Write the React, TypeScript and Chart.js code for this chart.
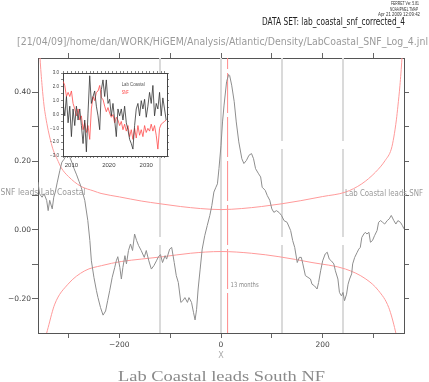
import React, { useEffect, useRef } from 'react';
import { Chart, registerables } from 'chart.js';

Chart.register(...registerables);

// ---------- Main cross-correlation data (lag in months, correlation) ----------
const ccLags = [
  -360, -357, -352, -348, -343, -340, -337, -332, -329, -326, -322, -317, -313, -309, -305, -301, -297, -293, -289, -284,
  -279, -275, -268, -262, -258, -255, -250, -245, -242, -237, -232, -227, -223, -219, -214, -209, -206, -203, -199, -196,
  -193, -189, -186, -182, -178, -174, -170, -166, -162, -157, -151, -147, -142, -137, -132, -127, -123, -119, -115, -110,
  -107, -101, -97, -92, -88, -84, -79, -75, -71, -66, -63, -58, -54, -51, -48, -45, -41, -37, -32, -27,
  -22, -18, -14, -10, -7, -4, 0, 3, 6, 11, 15, 17, 21, 26, 30, 35, 41, 45, 50, 55,
  60, 64, 68, 74, 78, 81, 87, 91, 96, 100, 104, 109, 114, 119, 124, 130, 137, 141, 145, 150,
  154, 158, 161, 166, 171, 176, 179, 184, 189, 192, 196, 200, 205, 209, 213, 217, 222, 225, 230, 233,
  237, 240, 243, 247, 250, 253, 257, 259, 263, 268, 271, 274, 277, 281, 284, 287, 291, 294, 298, 302,
  307, 310, 314, 318, 322, 327, 331, 335, 340, 344, 348, 353, 357, 360,
];
const ccValues = [
  0.139, 0.105, 0.095, 0.105, 0.086, 0.056, 0.086, 0.061, 0.095, 0.11, 0.139, 0.173, 0.197, 0.205, 0.215, 0.222, 0.21, 0.195, 0.178, 0.16,
  0.14, 0.124, 0.086, 0.027, -0.031, -0.09, -0.138, -0.177, -0.197, -0.226, -0.248, -0.236, -0.206, -0.177, -0.138, -0.109, -0.09, -0.078, -0.109, -0.143,
  -0.109, -0.075, -0.099, -0.06, -0.041, -0.06, -0.012, -0.031, -0.046, -0.06, -0.08, -0.06, -0.09, -0.114, -0.104, -0.09, -0.078, -0.072, -0.095, -0.075,
  -0.085, -0.056, -0.051, -0.095, -0.133, -0.153, -0.211, -0.206, -0.197, -0.211, -0.197, -0.211, -0.241, -0.262, -0.231, -0.172, -0.114, -0.056, -0.017, 0.013,
  0.042, 0.071, 0.11, 0.124, 0.134, 0.178, 0.246, 0.314, 0.363, 0.431, 0.452, 0.449, 0.421, 0.373, 0.314, 0.256, 0.207, 0.193, 0.202, 0.217,
  0.222, 0.207, 0.178, 0.163, 0.154, 0.124, 0.115, 0.1, 0.086, 0.061, 0.051, 0.056, 0.051, 0.042, 0.027, 0.022, -0.002, -0.031, -0.051, -0.095,
  -0.08, -0.08, -0.099, -0.133, -0.138, -0.143, -0.158, -0.163, -0.172, -0.153, -0.119, -0.09, -0.07, -0.065, -0.085, -0.09, -0.099, -0.119, -0.143, -0.182,
  -0.192, -0.182, -0.206, -0.187, -0.158, -0.143, -0.128, -0.099, -0.08, -0.065, -0.056, -0.051, -0.022, -0.012, -0.007, -0.012, -0.007, -0.036, -0.031, -0.017,
  -0.002, 0.022, 0.027, 0.022, 0.017, 0.027, 0.032, 0.042, 0.027, 0.017, 0.027, 0.022, 0.012, 0.003,
];

// ---------- Significance curves ----------
const upperLags = [-358, -356, -352, -348, -345, -340, -335, -330, -322, -314, -300, -276, -250, -236, -200, -157, -120, -80, -40, 0, 40, 80, 120, 157, 200, 245, 277, 304, 323, 335, 340, 345, 348, 352, 356, 358];
const upperValues = [0.56, 0.5, 0.42, 0.36, 0.33, 0.29, 0.258, 0.232, 0.205, 0.18, 0.155, 0.127, 0.113, 0.106, 0.096, 0.084, 0.076, 0.068, 0.062, 0.059, 0.062, 0.068, 0.076, 0.085, 0.097, 0.11, 0.134, 0.168, 0.202, 0.235, 0.27, 0.32, 0.36, 0.42, 0.5, 0.56];
const lowerLags = [-350, -346, -340, -327, -301, -268, -235, -196, -157, -114, -60, 0, 60, 114, 179, 245, 285, 310, 330, 343, 348, 352];
const lowerValues = [-0.36, -0.32, -0.284, -0.216, -0.158, -0.119, -0.104, -0.092, -0.085, -0.078, -0.068, -0.063, -0.068, -0.078, -0.095, -0.114, -0.143, -0.177, -0.226, -0.294, -0.33, -0.37];

// ---------- Reference lines ----------
const refLineLags = [-120, 0, 120, 240];
const peakLag = 13;

// ---------- Axis ticks ----------
const xTickValues = [-300, -200, -100, 0, 100, 200, 300];
const xLabelValues = [-200, 0, 200];
const yTickValues = [-0.2, -0.1, 0, 0.1, 0.2, 0.3, 0.4];
const yLabelValues = [-0.2, 0, 0.2, 0.4];

// ---------- Inset time series ----------
const insetYears = [
  2007.78, 2008.22, 2008.67, 2009.11, 2009.56, 2010.0, 2010.44, 2010.89, 2011.33, 2011.78, 2012.22, 2012.67, 2013.11, 2013.56, 2014.0, 2014.44,
  2014.89, 2015.33, 2015.78, 2016.22, 2016.67, 2017.11, 2017.56, 2018.0, 2018.44, 2018.89, 2019.33, 2019.78, 2020.22, 2020.67, 2021.11, 2021.56,
  2022.0, 2022.44, 2022.89, 2023.33, 2023.78, 2024.22, 2024.67, 2025.11, 2025.56, 2026.0, 2026.44, 2026.89, 2027.33, 2027.78, 2028.22, 2028.67,
  2029.11, 2029.56, 2030.0, 2030.44, 2030.89, 2031.33, 2031.78, 2032.22, 2032.67, 2033.11, 2033.56, 2034.0, 2034.44, 2034.89, 2035.33,
];
const labCoastalValues = [
  0.8, -0.1, 1.3, -0.6, 0.6, -1.6, 0.4, -0.8, 0.6, -0.4, 0.4, -0.8, -2.1, -0.4, -2.7, 0.1,
  2.8, 0.8, 1.3, 1.7, 0.6, -0.1, -1.1, 1.8, 2.5, 1.3, 2.5, 0.8, 1.1, -0.1, 0.8, -0.4,
  -1.6, 0.4, -0.1, 0.4, -0.4, 0.6, -0.6, -1.1, -1.8, -2.1, -2.5, -0.8, 0.4, 0.8, -0.1, 1.0,
  0.4, 1.1, -0.2, 0.6, 1.6, 0.8, 2.1, -0.1, 0.8, 0.4, 1.6, -0.1, 1.2, 0.4, -0.4,
];
const snfValues = [
  2.4, 2.1, 1.3, 1.6, 1.3, 1.7, 0.8, 0.4, -0.1, 0.4, -0.4, -0.1, -1.1, -0.6, -1.3, -0.8,
  -1.8, 0.4, 1.3, 1.0, 1.6, 1.7, 2.1, 1.2, 1.1, 0.6, 0.2, 0.5, 0.1, -0.2, 0.0, -0.6,
  -0.2, -0.4, -0.8, -0.5, -1.1, -0.7, -1.2, -0.8, -1.6, -1.1, -1.8, -1.0, -1.7, -0.8, -1.5, -1.1,
  -1.6, -0.8, -1.3, -1.0, -1.2, -0.7, -1.2, -0.8, -1.5, -2.5, -1.0, -0.7, -0.6, -0.5, -0.4,
];
const insetXTicks = [2008, 2009, 2010, 2011, 2012, 2013, 2014, 2015, 2016, 2017, 2018, 2019, 2020, 2021, 2022, 2023, 2024, 2025, 2026, 2027, 2028, 2029, 2030, 2031, 2032, 2033, 2034, 2035];
const insetXLabels = [2010, 2020, 2030];
const insetYTicks = [-3, -2.5, -2, -1.5, -1, -0.5, 0, 0.5, 1, 1.5, 2, 2.5, 3];

type TextSpec = { text: string; x: number; y: number; font: string; color: string; align: 'left' | 'center' | 'right'; width?: number };

function drawText(ctx: CanvasRenderingContext2D, t: TextSpec) {
  ctx.save();
  ctx.font = t.font;
  ctx.fillStyle = t.color;
  ctx.textBaseline = 'middle';
  ctx.textAlign = 'left';
  const m = ctx.measureText(t.text).width;
  const sx = t.width ? t.width / m : 1;
  const w = m * sx;
  const left = t.align === 'left' ? t.x : t.align === 'center' ? t.x - w / 2 : t.x - w;
  ctx.translate(left, t.y);
  ctx.scale(sx, 1);
  ctx.fillText(t.text, 0, 0);
  ctx.restore();
}

const fmtSigned = (v: number, d: number) => (v < -1e-9 ? '\u2212' : '') + Math.abs(v).toFixed(d);
const near = (arr: number[], v: number) => arr.some((a) => Math.abs(a - v) < 1e-6);

const tickFont = { family: 'DejaVu Sans', size: 7.5 };
const AXIS = '#555555';
const TICK = '#666666';

const App = () => {
  const mainRef = useRef<HTMLCanvasElement>(null);
  const insetRef = useRef<HTMLCanvasElement>(null);

  useEffect(() => {
    const mainTexts: any = {
      id: 'mainTexts',
      afterDraw(chart: any) {
        const ctx = chart.ctx as CanvasRenderingContext2D;
        const xs = chart.scales.x;
        const texts: TextSpec[] = [
          { text: 'FERRET Ver. 5.81', x: 419, y: 4, font: '5px "Liberation Sans"', color: '#333', align: 'right', width: 28 },
          { text: 'NOAA/PMEL TMAP', x: 418, y: 9.5, font: '5px "Liberation Sans"', color: '#333', align: 'right', width: 28 },
          { text: 'Apr 21 2009 12:09:42', x: 420, y: 14.5, font: '5px "Liberation Sans"', color: '#333', align: 'right', width: 42 },
          { text: 'DATA SET: lab_coastal_snf_corrected_4', x: 262, y: 22, font: '10px "DejaVu Sans"', color: '#222', align: 'left', width: 143 },
          { text: '[21/04/09]/home/dan/WORK/HiGEM/Analysis/Atlantic/Density/LabCoastal_SNF_Log_4.jnl', x: 17, y: 42, font: '11px "DejaVu Sans"', color: '#9a9a9a', align: 'left', width: 411 },
          { text: 'SNF leads Lab Coastal', x: 0.5, y: 193, font: '8px "DejaVu Sans"', color: '#9a9a9a', align: 'left', width: 85 },
          { text: 'Lab Coastal leads SNF', x: 345, y: 194, font: '8px "DejaVu Sans"', color: '#9a9a9a', align: 'left', width: 78 },
          { text: '13 months', x: xs.getPixelForValue(peakLag) + 3, y: 285, font: '7px "DejaVu Sans"', color: '#888', align: 'left', width: 28 },
          { text: 'X', x: xs.getPixelForValue(0), y: 356, font: '8px "DejaVu Sans"', color: '#aaa', align: 'center' },
          { text: 'Lab Coastal leads South NF', x: 221.5, y: 377, font: '14px "Liberation Serif"', color: '#8a8a8a', align: 'center', width: 207 },
        ];
        texts.forEach((t) => drawText(ctx, t));
      },
    };

    const lineDs = (label: string, data: { x: number; y: number }[], color: string, width: number, dash: number[] = [], smooth = false) => ({
      label,
      data,
      borderColor: color,
      backgroundColor: color,
      borderWidth: width,
      borderDash: dash,
      pointRadius: 0,
      fill: false,
      tension: 0,
      cubicInterpolationMode: smooth ? 'monotone' : 'default',
      xAxisID: 'x',
      yAxisID: 'y',
    });

    const datasets: any[] = [
      lineDs('cross-correlation', ccLags.map((l, i) => ({ x: l, y: ccValues[i] })), '#8e8e8e', 1),
      lineDs('upper', upperLags.map((l, i) => ({ x: l, y: upperValues[i] })), '#ff9a9a', 1, [], true),
      lineDs('lower', lowerLags.map((l, i) => ({ x: l, y: lowerValues[i] })), '#ff9a9a', 1, [], true),
      lineDs('peak', [{ x: peakLag, y: -0.3 }, { x: peakLag, y: 0.5 }], '#ff8a8a', 1, [40, 4]),
      ...refLineLags.map((l) =>
        lineDs('ref' + l, [{ x: l, y: -0.3 }, { x: l, y: 0.5 }], '#dadada', 2, l === 0 ? [] : [88, 8])
      ),
    ];

    const xCommon = {
      type: 'linear' as const,
      axis: 'x' as const,
      min: -360,
      max: 360,
      afterBuildTicks: (s: any) => {
        s.ticks = xTickValues.map((value) => ({ value }));
      },
      grid: { drawOnChartArea: false, drawTicks: true, tickLength: 5, color: TICK, lineWidth: 1 },
      border: { display: true, color: AXIS, width: 1 },
    };
    const yCommon = {
      type: 'linear' as const,
      axis: 'y' as const,
      min: -0.3,
      max: 0.5,
      afterBuildTicks: (s: any) => {
        s.ticks = yTickValues.map((value) => ({ value }));
      },
      grid: { drawOnChartArea: false, drawTicks: true, tickLength: 6, color: TICK, lineWidth: 1 },
      border: { display: true, color: AXIS, width: 1 },
    };

    const main = new Chart(mainRef.current as HTMLCanvasElement, {
      type: 'line',
      data: { datasets },
      options: {
        responsive: false,
        animation: false,
        devicePixelRatio: 1,
        layout: { padding: 0 },
        plugins: { legend: { display: false }, tooltip: { enabled: false }, title: { display: false } },
        scales: {
          x: {
            ...xCommon,
            position: 'bottom',
            ticks: {
              display: true,
              autoSkip: false,
              maxRotation: 0,
              padding: 3,
              color: '#444',
              font: tickFont,
              callback: (v: any) => (near(xLabelValues, Number(v)) ? fmtSigned(Number(v), 0) : ''),
            },
            afterFit: (s: any) => {
              s.height = 49;
            },
          },
          x2: {
            ...xCommon,
            position: 'top',
            ticks: { display: false },
            afterFit: (s: any) => {
              s.height = 58;
            },
          },
          y: {
            ...yCommon,
            position: 'left',
            ticks: {
              display: true,
              autoSkip: false,
              padding: 1,
              color: '#444',
              font: tickFont,
              callback: (v: any) => (near(yLabelValues, Number(v)) ? fmtSigned(Number(v), 2) : ''),
            },
            afterFit: (s: any) => {
              s.width = 38;
            },
          },
          y2: {
            ...yCommon,
            position: 'right',
            grid: { ...yCommon.grid, tickLength: 5 },
            ticks: { display: false },
            afterFit: (s: any) => {
              s.width = 25;
            },
          },
        } as any,
      },
      plugins: [mainTexts],
    });

    const insetPlugin: any = {
      id: 'insetDecor',
      beforeDraw(chart: any) {
        const { ctx, chartArea } = chart;
        ctx.save();
        ctx.fillStyle = '#ffffff';
        ctx.fillRect(chartArea.left, chartArea.top, chartArea.right - chartArea.left, chartArea.bottom - chartArea.top);
        ctx.restore();
      },
      afterDraw(chart: any) {
        const ctx = chart.ctx as CanvasRenderingContext2D;
        drawText(ctx, { text: 'Lab Coastal', x: 81.7, y: 19, font: '5px "Liberation Sans"', color: '#555', align: 'left', width: 23 });
        drawText(ctx, { text: 'SNF', x: 81.7, y: 26.3, font: '5px "Liberation Sans"', color: '#ff4040', align: 'left', width: 7 });
      },
    };

    const ixCommon = {
      type: 'linear' as const,
      axis: 'x' as const,
      min: 2007.75,
      max: 2035.55,
      afterBuildTicks: (s: any) => {
        s.ticks = insetXTicks.map((value) => ({ value }));
      },
      grid: { drawOnChartArea: false, drawTicks: true, tickLength: 2, color: '#555', lineWidth: 0.7 },
      border: { display: true, color: '#444', width: 1 },
    };
    const iyCommon = {
      type: 'linear' as const,
      axis: 'y' as const,
      min: -3,
      max: 3,
      afterBuildTicks: (s: any) => {
        s.ticks = insetYTicks.map((value) => ({ value }));
      },
      grid: { drawOnChartArea: false, drawTicks: true, tickLength: 2, color: '#555', lineWidth: 0.7 },
      border: { display: true, color: '#444', width: 1 },
    };

    const inset = new Chart(insetRef.current as HTMLCanvasElement, {
      type: 'line',
      data: {
        datasets: [
          {
            label: 'Lab Coastal',
            data: insetYears.map((yr, i) => ({ x: yr, y: labCoastalValues[i] })),
            borderColor: '#333',
            borderWidth: 0.8,
            pointRadius: 0,
            tension: 0,
            fill: false,
          },
          {
            label: 'SNF',
            data: insetYears.map((yr, i) => ({ x: yr, y: snfValues[i] })),
            borderColor: '#ff4a4a',
            borderWidth: 0.8,
            pointRadius: 0,
            tension: 0,
            fill: false,
          },
        ] as any,
      },
      options: {
        responsive: false,
        animation: false,
        devicePixelRatio: 1,
        layout: { padding: 0 },
        plugins: { legend: { display: false }, tooltip: { enabled: false } },
        scales: {
          x: {
            ...ixCommon,
            position: 'bottom',
            ticks: {
              display: true,
              autoSkip: false,
              maxRotation: 0,
              padding: 4,
              color: '#444',
              font: { family: 'Liberation Sans', size: 6 },
              callback: (v: any) => (near(insetXLabels, Number(v)) ? String(v) : ''),
            },
            afterFit: (s: any) => {
              s.height = 18;
            },
          },
          x2: {
            ...ixCommon,
            position: 'top',
            ticks: { display: false },
            afterFit: (s: any) => {
              s.height = 7;
            },
          },
          y: {
            ...iyCommon,
            position: 'left',
            ticks: {
              display: true,
              autoSkip: false,
              padding: 2,
              color: '#444',
              font: { family: 'Liberation Sans', size: 4.5 },
              callback: (v: any) => (Number.isInteger(Number(v)) ? fmtSigned(Number(v), 1) : ''),
            },
            afterFit: (s: any) => {
              s.width = 23;
            },
          },
          y2: {
            ...iyCommon,
            position: 'right',
            ticks: { display: false },
            afterFit: (s: any) => {
              s.width = 5;
            },
          },
        } as any,
      },
      plugins: [insetPlugin],
    });

    return () => {
      main.destroy();
      inset.destroy();
    };
  }, []);

  return (
    <div style={{ position: 'fixed', left: 0, top: 0, width: 429, height: 382, background: '#ffffff', overflow: 'hidden' }}>
      <canvas ref={mainRef} width={429} height={382} style={{ position: 'absolute', left: 0, top: 0 }} />
      <canvas ref={insetRef} width={132} height={108} style={{ position: 'absolute', left: 40, top: 66 }} />
    </div>
  );
};

export default App;
